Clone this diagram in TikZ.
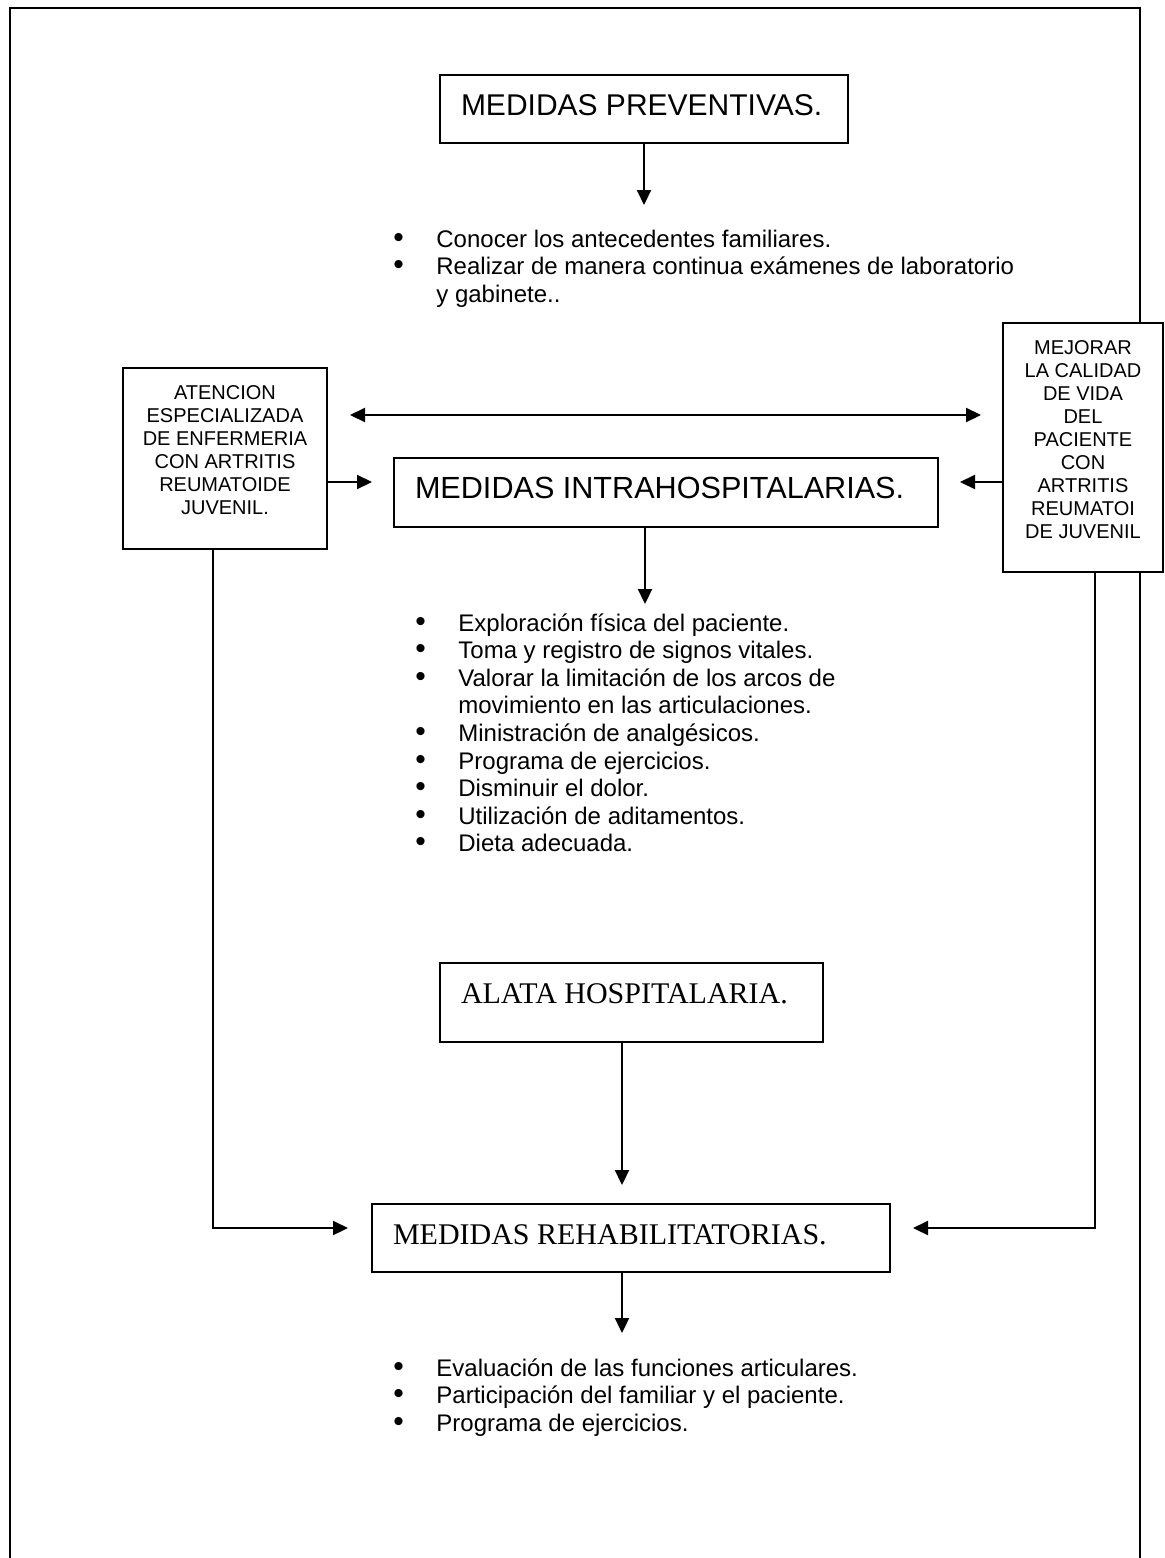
\documentclass[tikz,border=0pt]{standalone}
\usepackage{fontspec}
\setmainfont{Liberation Serif}
\newfontfamily\arialf{Liberation Sans}
\usetikzlibrary{arrows.meta}
\newcommand\blt[1]{\makebox[#1][l]{\fontsize{15}{15}\selectfont\textbullet}}
\begin{document}
\begin{tikzpicture}[x=0.5pt,y=-0.5pt,
  conn/.style={line width=1.1pt},
  arr/.style={conn,-{Triangle[length=7.5pt,width=7pt]}},
  darr/.style={conn,{Triangle[length=7.5pt,width=7pt]}-{Triangle[length=7.5pt,width=7pt]}},
  bigbox/.style={draw,line width=1.1pt,fill=white,inner xsep=10.5pt,inner ysep=0pt,outer sep=0pt,text height=20pt,anchor=north west,font=\arialf\fontsize{15}{17}\selectfont},
  serifbox/.style={bigbox,font=\rmfamily\fontsize{15}{17}\selectfont},
  sidebox/.style={draw,line width=1.1pt,fill=white,inner sep=0pt,outer sep=0pt,anchor=north west},
  sidetext/.style={anchor=north,inner sep=0pt,align=center,font=\arialf\fontsize{10}{11.5}\selectfont},
  li/.style={anchor=base west,inner sep=0pt,font=\arialf\fontsize{12}{13.8}\selectfont},
]
\useasboundingbox (0,0) rectangle (1165,1558);
\draw[line width=1.2pt] (10,1558) -- (10,8) -- (1140,8) -- (1140,1558);

% boxes
\node[bigbox,text depth=14pt] (prev) at (440,75) {\makebox[183pt][l]{MEDIDAS PREVENTIVAS.}};
\node[sidebox,minimum width=102pt,minimum height=90.5pt] (lb) at (123,368) {};
\node[sidebox,minimum width=80pt,minimum height=124.5pt] (rb) at (1003,323) {};
\node[sidetext] (lbt) at (225,385) {ATENCION\\ESPECIALIZADA\\DE ENFERMERIA\\CON ARTRITIS\\REUMATOIDE\\JUVENIL.};
\node[sidetext] (rbt) at (1083,340) {MEJORAR\\LA CALIDAD\\DE VIDA\\DEL\\PACIENTE\\CON\\ARTRITIS\\REUMATOI\\DE JUVENIL};
\node[bigbox,text depth=14.5pt,font=\arialf\fontsize{15.3}{17}\selectfont] (intra) at (394,458) {\makebox[251pt][l]{MEDIDAS INTRAHOSPITALARIAS.}};
\node[serifbox,text depth=19.5pt] (alta) at (440,963) {\makebox[170.5pt][l]{ALATA HOSPITALARIA.}};
\node[serifbox,text depth=14pt] (rehab) at (372,1204) {\makebox[238pt][l]{MEDIDAS REHABILITATORIAS.}};

% list 1
\node[li] (a1) at (393,247) {\blt{21.5pt}Conocer los antecedentes familiares.};
\node[li] (a2) at (393,274.6) {\blt{21.5pt}Realizar de manera continua exámenes de laboratorio};
\node[li] (a3) at (436,302.2) {y gabinete..};

% list 2
\node[li] (b1) at (415,631) {\blt{21.5pt}Exploración física del paciente.};
\node[li] (b2) at (415,658.6) {\blt{21.5pt}Toma y registro de signos vitales.};
\node[li] (b3) at (415,686.2) {\blt{21.5pt}Valorar la limitación de los arcos de};
\node[li] (b4) at (458,713.8) {movimiento en las articulaciones.};
\node[li] (b5) at (415,741.4) {\blt{21.5pt}Ministración de analgésicos.};
\node[li] (b6) at (415,769) {\blt{21.5pt}Programa de ejercicios.};
\node[li] (b7) at (415,796.6) {\blt{21.5pt}Disminuir el dolor.};
\node[li] (b8) at (415,824.2) {\blt{21.5pt}Utilización de aditamentos.};
\node[li] (b9) at (415,851.8) {\blt{21.5pt}Dieta adecuada.};

% list 3
\node[li] (c1) at (393,1376) {\blt{21.5pt}Evaluación de las funciones articulares.};
\node[li] (c2) at (393,1403.6) {\blt{21.5pt}Participación del familiar y el paciente.};
\node[li] (c3) at (393,1431.2) {\blt{21.5pt}Programa de ejercicios.};

% helper coordinates
\coordinate (t1) at (644,205);
\coordinate (t2) at (645,604);
\coordinate (t3) at (622,1333);
\coordinate (xa) at (622,0);
\coordinate (xl) at (213,0);
\coordinate (xr) at (1095,0);
\coordinate (ya) at (0,415);
\coordinate (yb) at (0,482);
\coordinate (yc) at (0,1228);

% connectors
\draw[arr] (prev.south) -- (t1);
\draw[darr,shorten <=11.5pt,shorten >=11pt] (lb.east |- ya) -- (rb.west |- ya);
\draw[arr,shorten >=11pt] (lb.east |- yb) -- (intra.west |- yb);
\draw[arr,shorten >=11pt] (rb.west |- yb) -- (intra.east |- yb);
\draw[arr] (intra.south -| t2) -- (t2);
\draw[arr,shorten >=9.5pt] (alta.south -| xa) -- (rehab.north -| xa);
\draw[arr,shorten >=12pt] (lb.south -| xl) |- (rehab.west |- yc);
\draw[arr,shorten >=11.5pt] (rb.south -| xr) |- (rehab.east |- yc);
\draw[arr] (rehab.south -| t3) -- (t3);
\end{tikzpicture}
\end{document}
